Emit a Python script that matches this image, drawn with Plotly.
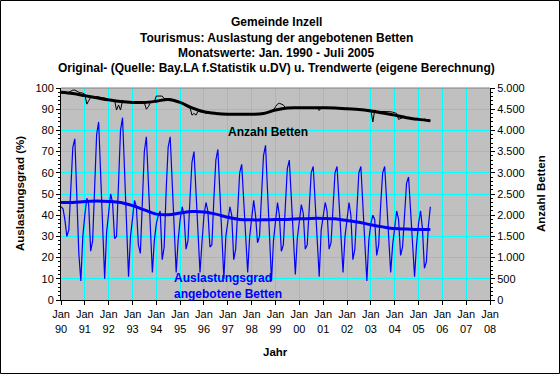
import pandas as pd
import plotly.graph_objects as go

# ---------------- data ----------------
occ_by_year = {
    1990: [44, 43, 38, 30, 33, 55, 72, 76, 50, 22, 9, 30],
    1991: [40, 48, 45, 23, 28, 55, 78, 84, 60, 30, 10, 32],
    1992: [42, 50, 46, 29, 30, 58, 80, 86, 60, 30, 11, 30],
    1993: [40, 47, 44, 26, 22, 50, 70, 77, 55, 30, 13, 28],
    1994: [36, 40, 42, 19, 25, 52, 72, 77, 55, 32, 13, 28],
    1995: [38, 44, 40, 24, 28, 48, 65, 70, 52, 30, 13, 27],
    1996: [40, 46, 42, 25, 26, 48, 66, 71, 50, 32, 10, 30],
    1997: [38, 44, 40, 19, 24, 45, 60, 64, 48, 28, 13, 30],
    1998: [40, 47, 40, 27, 30, 50, 68, 73, 50, 30, 9, 28],
    1999: [38, 46, 40, 23, 26, 45, 62, 66, 48, 30, 12, 29],
    2000: [38, 45, 41, 24, 26, 45, 60, 63, 46, 30, 11, 33],
    2001: [40, 46, 42, 24, 27, 45, 60, 63, 45, 30, 13, 30],
    2002: [39, 46, 40, 19, 24, 45, 60, 63, 45, 28, 9, 28],
    2003: [36, 40, 38, 21, 26, 45, 60, 63, 45, 28, 13, 26],
    2004: [35, 42, 38, 21, 25, 42, 55, 58, 42, 25, 11, 26],
    2005: [36, 42, 34, 15, 18, 35, 44],
}
beds_by_year = {
    1990: [4880, 4880, 4890, 4890, 4900, 4930, 4950, 4950, 4920, 4900, 4890, 4880],
    1991: [4850, 4620, 4700, 4780, 4800, 4800, 4800, 4790, 4780, 4770, 4760, 4750],
    1992: [4720, 4720, 4710, 4710, 4480, 4600, 4480, 4700, 4680, 4670, 4660, 4660],
    1993: [4660, 4660, 4650, 4650, 4650, 4650, 4650, 4500, 4560, 4660, 4670, 4680],
    1994: [4810, 4810, 4810, 4810, 4750, 4750, 4750, 4740, 4730, 4720, 4700, 4680],
    1995: [4660, 4640, 4600, 4580, 4560, 4540, 4360, 4400, 4360, 4450, 4440, 4430],
    1996: [4420, 4420, 4410, 4400, 4400, 4400, 4400, 4390, 4390, 4390, 4390, 4380],
    1997: [4380, 4380, 4380, 4380, 4380, 4380, 4380, 4380, 4380, 4380, 4380, 4380],
    1998: [4380, 4380, 4390, 4390, 4390, 4390, 4400, 4400, 4420, 4440, 4460, 4480],
    1999: [4560, 4620, 4640, 4610, 4600, 4540, 4530, 4530, 4530, 4530, 4530, 4530],
    2000: [4530, 4530, 4530, 4530, 4530, 4530, 4530, 4530, 4530, 4530, 4470, 4530],
    2001: [4530, 4530, 4530, 4530, 4530, 4530, 4530, 4530, 4530, 4530, 4520, 4520],
    2002: [4520, 4510, 4510, 4500, 4500, 4500, 4490, 4490, 4490, 4490, 4480, 4480],
    2003: [4480, 4200, 4480, 4450, 4450, 4440, 4440, 4440, 4440, 4440, 4440, 4430],
    2004: [4420, 4400, 4260, 4280, 4300, 4300, 4300, 4290, 4290, 4280, 4270, 4260],
    2005: [4250, 4250, 4240, 4270, 4250, 4230, 4230],
}
# semi-annual trend values (Jan/Jul 1990 .. Jul 2005)
occ_trend = [46, 46, 46.5, 46.7, 46.5, 46, 44.5, 42.5, 40.5, 40.2, 41, 41.7,
             41.5, 40.5, 39, 38, 37.8, 37.8, 38, 38, 38.3, 38.5, 38.5, 38.3,
             37.5, 36.7, 35.5, 34.5, 33.7, 33.5, 33.3, 33.3]
beds_trend = [4900, 4870, 4820, 4770, 4720, 4680, 4660, 4660, 4690, 4730, 4660, 4530,
              4440, 4400, 4380, 4380, 4380, 4400, 4480, 4530, 4535, 4535, 4535, 4530,
              4510, 4495, 4460, 4410, 4360, 4300, 4260, 4230]

tick_years = list(range(1990, 2009))
tick_text = ["Jan<br>" + str(y)[2:] for y in tick_years]

occ = [v for y in sorted(occ_by_year) for v in occ_by_year[y]]
beds = [v for y in sorted(beds_by_year) for v in beds_by_year[y]]
months = pd.date_range("1990-01-01", periods=len(occ), freq="MS")
trend_dates = pd.date_range("1990-01-01", periods=len(occ_trend), freq="6MS")
tick_vals = [pd.Timestamp(f"{y}-01-01") for y in tick_years]

# ---------------- figure ----------------
W, H = 560, 374
L, R, T, B = 61, 70, 88, 74
pw, ph = W - L - R, H - T - B
FONT = "Liberation Sans, Arial, sans-serif"

fig = go.Figure()
fig.add_trace(go.Scatter(x=months, y=occ, mode="lines",
                         line=dict(color="#0000FF", width=1.2), yaxis="y"))
fig.add_trace(go.Scatter(x=trend_dates, y=occ_trend, mode="lines",
                         line=dict(color="#0000FF", width=3, shape="spline"), yaxis="y"))
fig.add_trace(go.Scatter(x=months, y=beds, mode="lines",
                         line=dict(color="#000000", width=1), yaxis="y2"))
fig.add_trace(go.Scatter(x=trend_dates, y=beds_trend, mode="lines",
                         line=dict(color="#000000", width=3, shape="spline"), yaxis="y2"))

fig.update_layout(
    width=W, height=H,
    margin=dict(l=L, r=R, t=T, b=B, pad=0),
    paper_bgcolor="white", plot_bgcolor="#C0C0C0",
    showlegend=False,
    separators=",.",
    font=dict(family=FONT, size=11, color="black"),
    xaxis=dict(range=[tick_vals[0], tick_vals[-1]], tickvals=tick_vals, ticktext=tick_text,
               showgrid=True, gridcolor="#00FFFF", gridwidth=1,
               showline=True, linecolor="black", linewidth=1,
               ticks="outside", ticklen=4, tickcolor="black",
               tickfont=dict(size=11), zeroline=False, fixedrange=True),
    yaxis=dict(range=[0, 100], dtick=10, showgrid=True, gridcolor="#00FFFF", gridwidth=1,
               showline=True, linecolor="black", linewidth=1,
               ticks="outside", ticklen=4, tickcolor="black",
               minor=dict(ticks="outside", ticklen=2, tickcolor="black", dtick=2, showgrid=False),
               tickfont=dict(size=11), zeroline=False),
    yaxis2=dict(range=[0, 5000], dtick=500, overlaying="y", side="right",
                showgrid=False, showline=True, linecolor="black", linewidth=1,
                ticks="outside", ticklen=4, tickcolor="black",
                minor=dict(ticks="outside", ticklen=2, tickcolor="black", dtick=100),
                tickformat=",d", tickfont=dict(size=11), zeroline=False),
)

# outer border and plot border
fig.add_shape(type="rect", xref="paper", yref="paper",
              x0=-L / pw + 0.5 / pw, x1=(W - L - 0.5) / pw,
              y0=-(B - 0.5) / ph, y1=1 + (T - 0.5) / ph,
              line=dict(color="black", width=1), layer="below")
fig.add_shape(type="line", xref="paper", yref="paper", x0=0, x1=1, y0=1, y1=1,
              line=dict(color="#808080", width=1))

# titles
titles = ["Gemeinde Inzell",
          "Tourismus: Auslastung der angebotenen Betten",
          "Monatswerte: Jan. 1990 - Juli 2005",
          "Original- (Quelle: Bay.LA f.Statistik u.DV) u. Trendwerte (eigene Berechnung)"]
for i, t in enumerate(titles):
    ypix = 22 + i * 15.5
    fig.add_annotation(text="<b>" + t + "</b>", xref="paper", yref="paper",
                       x=(276 - L) / pw, y=1 + (T - ypix) / ph, showarrow=False,
                       xanchor="center", yanchor="middle", font=dict(size=12))

fig.add_annotation(text="<b>Auslastungsgrad (%)</b>", xref="paper", yref="paper",
                   x=(20 - L) / pw, y=(300 - 194) / ph, textangle=-90, showarrow=False,
                   xanchor="center", yanchor="middle", font=dict(size=11.5))
fig.add_annotation(text="<b>Anzahl Betten</b>", xref="paper", yref="paper",
                   x=(541 - L) / pw, y=(300 - 194) / ph, textangle=-90, showarrow=False,
                   xanchor="center", yanchor="middle", font=dict(size=11.5))
fig.add_annotation(text="<b>Jahr</b>", xref="paper", yref="paper",
                   x=(275 - L) / pw, y=-(352 - 300) / ph, showarrow=False,
                   xanchor="center", yanchor="middle", font=dict(size=11.5))

fig.add_annotation(text="<b>Anzahl Betten</b>", xref="paper", yref="paper",
                   x=(268 - L) / pw, y=(300 - 132) / ph, showarrow=False,
                   xanchor="center", yanchor="middle", font=dict(size=12))
fig.add_annotation(text="<b>Auslastungsgrad<br>angebotene Betten</b>", xref="paper", yref="paper",
                   x=(172 - L) / pw, y=(300 - 285.5) / ph, showarrow=False, align="left",
                   xanchor="left", yanchor="middle", font=dict(size=12, color="#0000FF"))

fig.write_html("out.html", config={"displayModeBar": False},
               post_script="document.body.style.margin='0px';")
